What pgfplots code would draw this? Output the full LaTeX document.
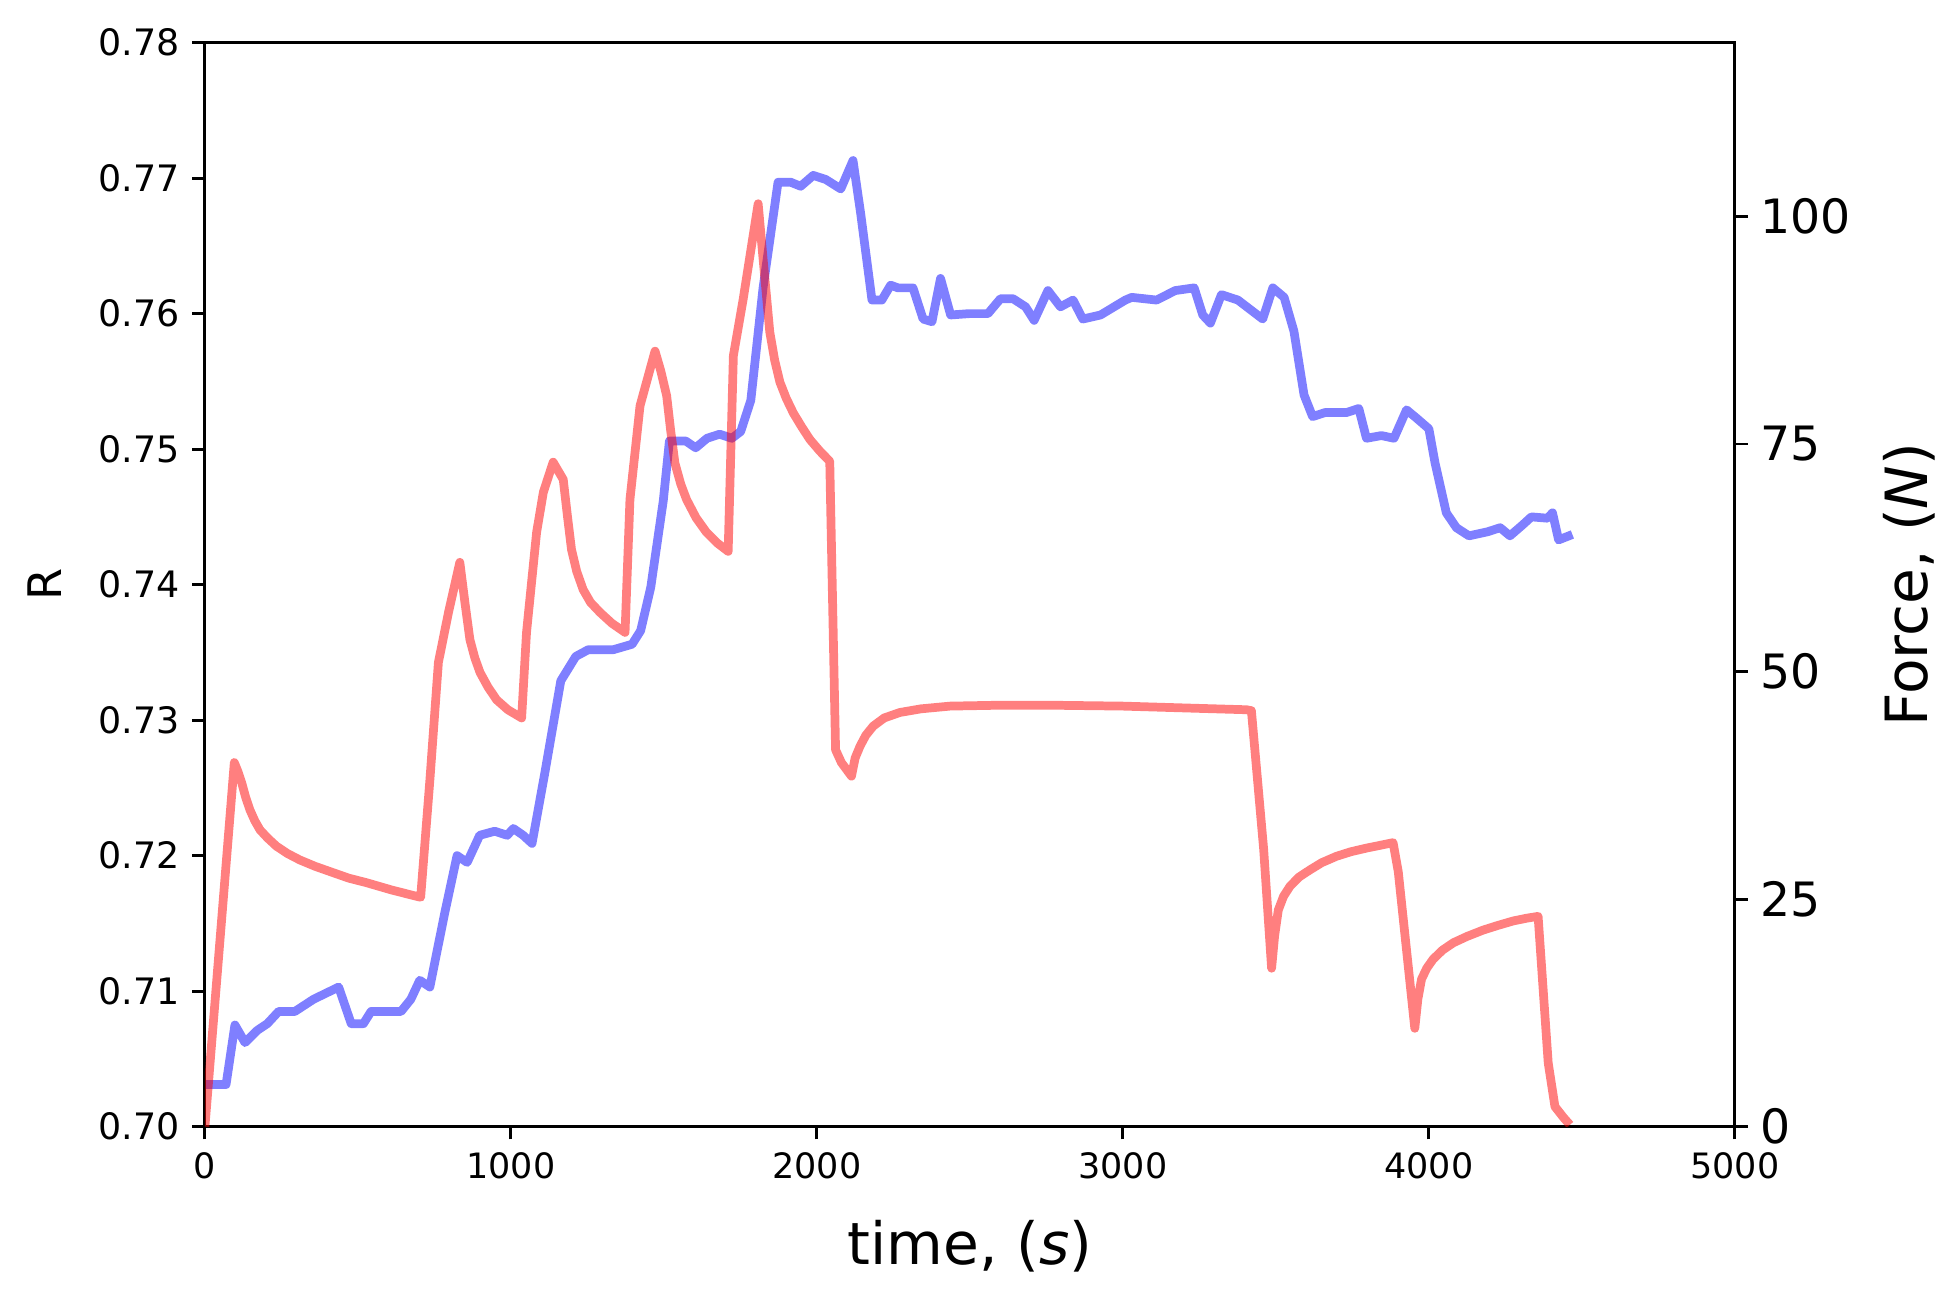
\documentclass[border=0pt]{standalone}
\usepackage{pgfplots}
\pgfplotsset{compat=1.18}
\usepackage{fontspec}
\setmainfont{DejaVu Sans}

\definecolor{rline}{RGB}{255,0,0}
\definecolor{bline}{RGB}{0,0,255}

\pgfplotsset{
  twin/.style={
    at={(0,0)}, anchor=south west,
    scale only axis, width=420.3pt, height=297.8pt,
    xmin=0, xmax=5000,
    tick align=outside,
    major tick length=3.5pt,
    axis line style={line width=0.8pt},
    every tick/.style={black, line width=0.8pt},
    /pgf/number format/assume math mode=true,
  },
}

\begin{document}
\begin{tikzpicture}
\useasboundingbox (-56.3pt,-47.3pt) rectangle (481.6pt,309.5pt);

% left axis: R
\begin{axis}[
    twin,
    ymin=0.70, ymax=0.78,
    ytick={0.70,0.71,0.72,0.73,0.74,0.75,0.76,0.77,0.78},
    xtick={0,1000,2000,3000,4000,5000},
    xtick pos=left, ytick pos=left,
    yticklabel style={font=\fontsize{10}{12}\selectfont,
      /pgf/number format/.cd, fixed, fixed zerofill, precision=2},
    xticklabel style={font=\fontsize{9.6}{11}\selectfont,
      /pgf/number format/.cd, 1000 sep={}},
    every axis y label/.style={at={(axis description cs:-0.105,0.5)}, rotate=90, anchor=center},
    every axis x label/.style={at={(axis description cs:0.5,-0.110)}, anchor=center},
    ylabel={\fontsize{12.7}{14}\selectfont R},
    xlabel={\fontsize{16}{18}\selectfont time, (\textit{s})},
  ]
  \addplot[bline, draw opacity=0.5, line width=2.4pt, line join=round] coordinates {
    (0,0.7031)(69,0.7031)(98,0.7075)(131,0.7062)(171,0.7071)(204,0.7076)(241,0.7085)
    (294,0.7085)(355,0.7094)(437,0.7103)(478,0.7076)(518,0.7076)(543,0.7085)(641,0.7085)
    (673,0.7094)(702,0.7108)(735,0.7103)(784,0.7158)(824,0.7200)(857,0.7195)(898,0.7215)
    (947,0.7218)(988,0.7215)(1008,0.7220)(1040,0.7215)(1069,0.7209)(1110,0.7260)(1163,0.7329)
    (1212,0.7347)(1253,0.7352)(1335,0.7352)(1396,0.7356)(1424,0.7366)(1457,0.7398)(1498,0.7462)
    (1518,0.7506)(1571,0.7506)(1604,0.7501)(1641,0.7508)(1682,0.7511)(1722,0.7508)(1751,0.7513)
    (1784,0.7536)(1824,0.7619)(1873,0.7697)(1914,0.7697)(1947,0.7694)(1988,0.7702)(2029,0.7699)
    (2078,0.7692)(2118,0.7713)(2143,0.7674)(2180,0.7610)(2212,0.7610)(2241,0.7621)(2265,0.7619)
    (2314,0.7619)(2347,0.7596)(2376,0.7594)(2404,0.7626)(2437,0.7599)(2498,0.7600)(2559,0.7600)
    (2600,0.7611)(2641,0.7611)(2682,0.7605)(2710,0.7595)(2755,0.7617)(2796,0.7605)(2837,0.7610)
    (2869,0.7596)(2927,0.7599)(3008,0.7610)(3029,0.7612)(3110,0.7610)(3171,0.7617)(3233,0.7619)
    (3261,0.7599)(3286,0.7593)(3322,0.7614)(3376,0.7610)(3457,0.7596)(3490,0.7619)(3527,0.7612)
    (3559,0.7587)(3592,0.7540)(3620,0.7524)(3661,0.7527)(3731,0.7527)(3771,0.7530)(3796,0.7508)
    (3845,0.7510)(3886,0.7508)(3927,0.7529)(3959,0.7523)(4000,0.7515)(4020,0.7490)(4057,0.7453)
    (4090,0.7442)(4131,0.7436)(4192,0.7439)(4233,0.7442)(4265,0.7436)(4306,0.7444)(4335,0.7450)
    (4388,0.7449)(4404,0.7453)(4424,0.7433)(4469,0.7437)
  };
\end{axis}

% right axis: force
\begin{axis}[
    twin,
    ymin=0, ymax=119.1,
    xtick=\empty,
    ytick={0,25,50,75,100},
    ytick pos=right, yticklabel pos=right,
    yticklabel style={font=\fontsize{13}{15}\selectfont},
    every axis y label/.style={at={(axis description cs:1.114,0.5)}, rotate=90, anchor=center},
    ylabel={\fontsize{16}{18}\selectfont Force, (\textit{N})},
  ]
  \addplot[rline, draw opacity=0.5, line width=2.4pt, line join=round] coordinates {
    (0,0)(96,40.0)(108,39.0)(120,37.8)(133,36.2)(147,34.8)(163,33.6)(180,32.6)(205,31.7)
    (234,30.8)(270,30.0)(310,29.3)(360,28.6)(419,27.9)(470,27.3)(528,26.8)(610,26.0)(692,25.3)
    (705,25.2)(735,38)(763,51)(796,56.5)(833,62.0)(850,57.5)(866,53.5)(882,51.5)(899,49.9)
    (925,48.3)(953,46.9)(990,45.8)(1035,44.9)(1051,54.3)(1084,65.3)(1106,69.7)(1138,73.0)
    (1171,71.1)(1185,67)(1198,63.4)(1215,61)(1236,59.0)(1260,57.6)(1291,56.5)(1330,55.3)
    (1373,54.3)(1389,68.9)(1422,79.2)(1471,85.2)(1490,83)(1509,80.3)(1522,76.5)(1536,72.9)
    (1555,70.6)(1574,68.9)(1605,66.9)(1639,65.3)(1675,64.1)(1710,63.2)(1727,84.7)(1759,90.9)
    (1808,101.4)(1825,95)(1846,87.3)(1862,84.2)(1879,81.8)(1900,80.0)(1923,78.4)(1950,76.9)
    (1977,75.5)(2010,74.2)(2042,73.1)(2061,41.4)(2080,40)(2113,38.5)(2125,40.5)(2141,41.8)
    (2160,43.0)(2184,44.0)(2220,44.9)(2271,45.5)(2340,45.9)(2435,46.2)(2600,46.3)(2761,46.3)
    (3000,46.2)(3200,46.0)(3404,45.8)(3420,45.7)(3460,30.5)(3486,17.4)(3496,21.0)(3508,23.8)
    (3525,25.3)(3546,26.4)(3575,27.4)(3611,28.2)(3650,29.0)(3698,29.7)(3745,30.2)(3796,30.6)
    (3840,30.9)(3883,31.2)(3900,28)(3954,10.8)(3964,14.0)(3976,16.2)(3993,17.4)(4014,18.4)
    (4045,19.4)(4080,20.2)(4125,20.9)(4178,21.6)(4225,22.1)(4276,22.6)(4320,22.9)(4357,23.1)
    (4390,7.0)(4412,2.2)(4440,1.0)(4461,0.2)
  };
\end{axis}
\end{tikzpicture}
\end{document}
